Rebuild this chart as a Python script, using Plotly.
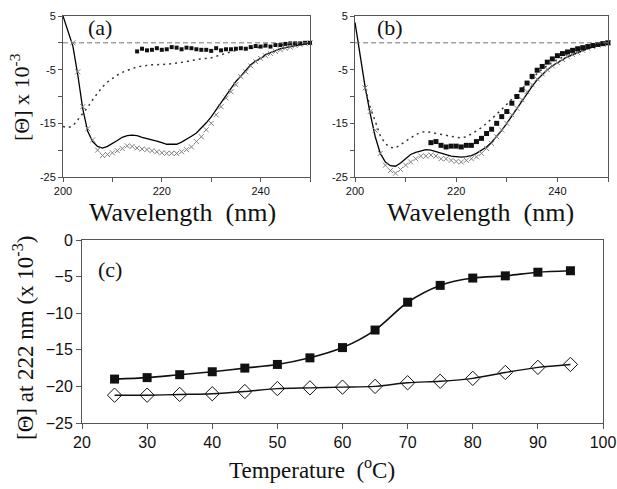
import plotly.graph_objects as go

# ---------------- Panel (a) data ----------------
wl_full = list(range(200, 251))
solid_a = [5.0, 2.3, -0.6, -6.0, -12.3, -16.5, -18.4, -19.3, -19.6, -19.3,
           -18.8, -18.2, -17.6, -17.3, -17.2, -17.3, -17.6, -17.8, -18.0, -18.3,
           -18.6, -18.9, -18.9, -18.9, -18.5, -18.0, -17.4, -16.8, -15.9, -14.9,
           -13.8, -12.5, -11.3, -9.9, -8.5, -7.2, -6.2, -5.2, -4.1, -3.4,
           -2.9, -2.2, -1.8, -1.4, -1.1, -0.9, -0.7, -0.5, -0.3, -0.15, 0.0]
dotted_a = [-15.6, -15.8, -15.5, -14.4, -13.2, -12.0, -10.6, -9.3, -8.2, -7.3,
            -6.6, -6.0, -5.5, -5.1, -4.8, -4.5, -4.3, -4.2, -4.1, -4.1,
            -4.1, -4.0, -3.9, -3.8, -3.6, -3.5, -3.3, -3.1, -3.0, -2.9,
            -2.8, -2.5, -2.2, -1.9, -1.6, -1.4, -1.2, -1.1, -1.0, -0.9,
            -0.8, -0.6, -0.5, -0.4, -0.3, -0.2, -0.15, -0.1, -0.05, 0.0, 0.0]
wl_x = list(range(202, 251))
xmark_a = [0.0, -5.4, -11.9, -16.0, -18.1, -20.0, -21.0, -20.8, -20.5, -20.1,
           -19.7, -19.2, -19.3, -19.6, -19.8, -19.9, -20.1, -20.3, -20.5, -20.6,
           -20.6, -20.6, -20.3, -19.9, -19.4, -18.4, -17.5, -16.2, -15.0, -13.4,
           -11.9, -10.3, -9.1, -7.8, -6.3, -5.4, -4.3, -3.5, -2.9, -2.4,
           -2.0, -1.6, -1.3, -1.0, -0.8, -0.5, -0.3, -0.1, 0.0]
wl_sq = list(range(215, 251))
square_a = [-1.6, -1.1, -1.4, -1.3, -1.0, -1.3, -1.2, -0.8, -0.9, -1.2,
            -0.9, -1.0, -1.2, -1.3, -1.3, -1.5, -1.0, -1.4, -1.2, -1.2,
            -1.1, -1.0, -1.1, -0.8, -0.6, -0.7, -0.5, -0.7, -0.4, -0.4,
            -0.2, -0.1, -0.1, -0.1, 0.0, 0.0]

# ---------------- Panel (b) data ----------------
solid_b = [3.8, -2.5, -8.2, -13.2, -17.5, -20.6, -22.2, -22.9, -23.0, -22.4,
           -21.6, -20.8, -20.4, -20.1, -19.9, -20.0, -20.3, -20.5, -20.8, -21.1,
           -21.2, -21.3, -21.2, -21.0, -20.6, -20.0, -19.4, -18.5, -17.5, -16.3,
           -15.0, -13.6, -12.2, -10.8, -9.4, -8.1, -6.9, -5.9, -5.0, -4.3,
           -3.7, -3.1, -2.6, -2.2, -1.8, -1.4, -1.0, -0.7, -0.4, -0.2, 0.0]
xmark_b = [-8.4, -12.8, -16.3, -20.6, -22.8, -23.8, -24.3, -23.6, -22.8, -22.2,
           -21.6, -21.1, -21.1, -20.9, -21.1, -21.6, -21.6, -21.9, -22.1, -22.2,
           -21.9, -21.6, -21.25, -20.6, -19.7, -18.75, -17.5, -16.25, -15.0, -13.4,
           -12.2, -10.6, -9.1, -7.8, -6.75, -5.8, -5.0, -4.3, -3.7, -3.1,
           -2.6, -2.2, -1.8, -1.4, -1.0, -0.7, -0.4, -0.2, 0.0]
dotted_b = [-8.5, -12.0, -14.6, -17.3, -18.8, -19.5, -19.6, -19.0, -18.4, -17.7,
            -17.1, -16.7, -16.5, -16.7, -16.9, -17.1, -17.3, -17.5, -17.6, -17.7,
            -17.5, -17.0, -16.4, -15.8, -15.0, -14.2, -13.3, -12.4, -11.5, -10.5,
            -9.5, -8.5, -7.5, -6.6, -5.7, -4.9, -4.2, -3.6, -3.1, -2.6,
            -2.2, -1.8, -1.4, -1.1, -0.8, -0.6, -0.4, -0.2, 0.0]
square_b = [-18.6, -18.4, -19.1, -19.4, -19.25, -19.25, -19.4, -19.1, -19.1, -18.4,
            -17.8, -16.9, -16.1, -15.0, -13.75, -12.8, -11.25, -10.0, -8.75, -7.5,
            -6.25, -5.1, -4.4, -3.6, -3.0, -2.4, -2.0, -1.7, -1.4, -1.1,
            -0.9, -0.7, -0.5, -0.3, -0.15, 0.0]

# ---------------- Panel (c) data ----------------
temps = [25, 30, 35, 40, 45, 50, 55, 60, 65, 70, 75, 80, 85, 90, 95]
theta_sq = [-19.0, -18.8, -18.4, -18.0, -17.5, -17.0, -16.1, -14.7, -12.3, -8.5,
            -6.2, -5.2, -4.9, -4.4, -4.2]
theta_dia = [-21.2, -21.2, -21.1, -21.0, -20.7, -20.3, -20.2, -20.1, -20.0, -19.5,
             -19.3, -18.9, -18.1, -17.4, -17.0]

W, H = 617, 489
def px(x):
    return x / W
def py(y):
    return 1 - y / H

fig = go.Figure()

line_col = "#555555"

def add_cd(xa, ya, solid, dotted, wl_dot, xm, sq, sqsize):
    fig.add_trace(go.Scatter(x=wl_full, y=solid, mode="lines",
                             line=dict(color="black", width=1.3),
                             xaxis=xa, yaxis=ya, showlegend=False))
    fig.add_trace(go.Scatter(x=wl_dot, y=dotted, mode="lines",
                             line=dict(color="#333333", width=1.5, dash="2px,4px"),
                             xaxis=xa, yaxis=ya, showlegend=False))
    fig.add_trace(go.Scatter(x=wl_x, y=xm, mode="markers",
                             marker=dict(symbol="x-thin", size=5,
                                         line=dict(color="#808080", width=1)),
                             xaxis=xa, yaxis=ya, showlegend=False, cliponaxis=False))
    fig.add_trace(go.Scatter(x=wl_sq, y=sq, mode="markers",
                             marker=dict(symbol="square", size=sqsize, color="#111111"),
                             xaxis=xa, yaxis=ya, showlegend=False, cliponaxis=False))

add_cd("x", "y", solid_a, dotted_a, wl_full, xmark_a, square_a, 4)
add_cd("x2", "y2", solid_b, dotted_b, wl_x, xmark_b, square_b, 5)

fig.add_trace(go.Scatter(x=temps, y=theta_sq, mode="lines+markers",
                         line=dict(color="#111111", width=1.6, shape="spline", smoothing=0.8),
                         marker=dict(symbol="square", size=9, color="#111111"),
                         xaxis="x3", yaxis="y3", showlegend=False))
fig.add_trace(go.Scatter(x=temps, y=theta_dia, mode="lines+markers",
                         line=dict(color="#111111", width=1.4, shape="spline", smoothing=0.8),
                         marker=dict(symbol="diamond-open", size=11, color="#111111",
                                     line=dict(width=1)),
                         xaxis="x3", yaxis="y3", showlegend=False))

tickfont_small = dict(family="Liberation Sans, Arial", size=11, color="#111111")
tickfont_big = dict(family="Liberation Sans, Arial", size=16, color="#111111")

def axis_common(**kw):
    d = dict(showline=True, mirror=True, linecolor=line_col, linewidth=1,
             ticks="outside", ticklen=4, tickcolor=line_col, showgrid=False,
             zeroline=False, automargin=False)
    d.update(kw)
    return d

wl_ticks = [200, 210, 220, 230, 240, 250]
wl_text = ["200", "", "220", "", "240", ""]
cd_ticks = [5, 0, -5, -10, -15, -20, -25]
cd_text = ["5", "", "-5", "", "-15", "", "-25"]

fig.update_layout(
    width=W, height=H, margin=dict(l=0, r=0, t=0, b=0, autoexpand=False),
    paper_bgcolor="white", plot_bgcolor="white",
    xaxis=axis_common(domain=[px(63), px(310)], range=[200, 250], anchor="y",
                      tickmode="array", tickvals=wl_ticks, ticktext=wl_text,
                      tickfont=tickfont_small),
    yaxis=axis_common(domain=[py(177), py(16)], range=[-25, 5], anchor="x",
                      tickmode="array", tickvals=cd_ticks, ticktext=cd_text,
                      tickfont=tickfont_small),
    xaxis2=axis_common(domain=[px(355), px(608)], range=[200, 250], anchor="y2",
                       tickmode="array", tickvals=wl_ticks, ticktext=wl_text,
                       tickfont=tickfont_small),
    yaxis2=axis_common(domain=[py(177), py(16)], range=[-25, 5], anchor="x2",
                       tickmode="array", tickvals=cd_ticks, ticktext=cd_text,
                       tickfont=tickfont_small),
    xaxis3=axis_common(domain=[px(82), px(603)], range=[20, 100], anchor="y3",
                       dtick=10, tickfont=tickfont_big, ticklen=5),
    yaxis3=axis_common(domain=[py(423), py(240)], range=[-25, 0], anchor="x3",
                       dtick=5, tickfont=tickfont_big, ticklen=5),
)

# zero reference lines in (a) and (b)
for xr, yr in (("x", "y"), ("x2", "y2")):
    fig.add_shape(type="line", xref=xr + " domain", yref=yr, x0=0, x1=1, y0=0, y1=0,
                  line=dict(color="#777777", width=1, dash="5px,3px"))

serif = "Liberation Serif, Times New Roman, serif"
def ann(text, x, y, size, angle=0):
    fig.add_annotation(text=text, x=px(x), y=py(y), xref="paper", yref="paper",
                       showarrow=False, textangle=angle,
                       font=dict(family=serif, size=size, color="#111111"),
                       xanchor="center", yanchor="middle")

ann("(a)", 100, 28, 22)
ann("(b)", 390, 28, 22)
ann("(c)", 110, 269, 22)
ann("Wavelength  (nm)", 183, 212, 26)
ann("Wavelength  (nm)", 480, 212, 26)
ann("Temperature  (<sup>o</sup>C)", 312, 468, 23)
ann("[Θ] x 10<sup>-3</sup>", 20, 97, 22, -90)
ann("[Θ] at 222 nm (x 10<sup>-3</sup>)", 23, 338, 23, -90)

fig.write_html("out.html",
               config={"displayModeBar": False},
               post_script="document.body.style.margin='0px';"
                           "document.body.style.overflow='hidden';")
